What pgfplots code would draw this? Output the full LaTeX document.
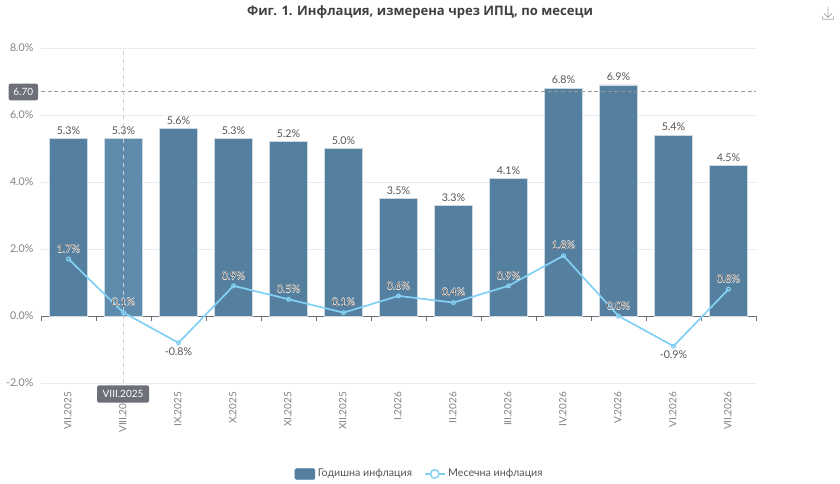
\documentclass[border=0pt]{standalone}
\usepackage{pgfplots}
\pgfplotsset{compat=1.18}
\usepackage{fontspec}
\setmainfont{Lato}
\newfontfamily\titlefont{Open Sans}
\definecolor{barc}{HTML}{557F9F}
\definecolor{barh}{HTML}{5F8CAD}
\definecolor{linec}{HTML}{84D0F4}
\definecolor{gridc}{HTML}{E8EDF5}
\definecolor{axisc}{HTML}{6E7079}
\definecolor{txt}{HTML}{808080}
\definecolor{lab}{HTML}{555555}
\definecolor{boxc}{HTML}{6E7079}
\newcommand{\halo}[1]{\makebox[0pt]{\textcolor{white}{\kern.4pt #1}}\makebox[0pt]{\textcolor{white}{\kern-.4pt #1}}\makebox[0pt]{\raisebox{.4pt}{\textcolor{white}{#1}}}\makebox[0pt]{\raisebox{-.4pt}{\textcolor{white}{#1}}}\makebox[0pt]{\textcolor{lab}{#1}}}
\pgfplotstableread{
x y
0 5.3
2 5.6
3 5.3
4 5.2
5 5.0
6 3.5
7 3.3
8 4.1
9 6.8
10 6.9
11 5.4
12 4.5
}\yearly
\pgfplotstableread{
x y
1 5.3
}\yearlyhi
\pgfplotstableread{
x y
0 1.7
1 0.1
2 -0.8
3 0.9
4 0.5
5 0.1
6 0.6
7 0.4
8 0.9
9 1.8
10 0.0
11 -0.9
12 0.8
}\monthly
\pgfplotstableread{
x y
-0.5 6.7
12.5 6.7
}\markline
\pgfplotstableread{
x y
1 -2
1 8
}\pointer
\begin{document}
\begin{tikzpicture}
\path (0pt,0pt) rectangle (630pt,363pt);
\begin{axis}[
  at={(30.75pt,75.75pt)},anchor=south west,
  scale only axis,width=536.25pt,height=251.25pt,
  xmin=-0.5,xmax=12.5,ymin=-2,ymax=8,
  axis x line=bottom,axis y line=left,
  x axis line style={draw=none,-},
  y axis line style={draw=none,-},
  ytick={-2,0,2,4,6,8},
  yticklabel={\pgfmathprintnumber[fixed,fixed zerofill,precision=1,assume math mode=true]{\tick}\%},
  y tick label style={font=\fontsize{8}{9}\selectfont,text=txt},
  ymajorgrids,grid style={gridc,line width=.6pt},
  major y tick style={draw=none},
  xtick={0,...,12},
  xticklabels={VII.2025,VIII.2025,IX.2025,X.2025,XI.2025,XII.2025,I.2026,II.2026,III.2026,IV.2026,V.2026,VI.2026,VII.2026},
  x tick label style={font=\fontsize{7.5}{9}\selectfont,text=txt,rotate=90,anchor=east,xshift=-1pt,yshift=0.5pt},
  xtick style={draw=none},
  clip=false,
  legend style={at={(0.53,0)},anchor=center,yshift=-68.25pt,draw=none,fill=none,font=\fontsize{8}{9}\selectfont\color{lab},legend columns=2,/tikz/every even column/.append style={column sep=7pt},inner sep=0pt},
]
\addlegendimage{legend image code/.code={\fill[barc,rounded corners=1pt] (0pt,-4pt) rectangle (15pt,4pt);}}
\addlegendentry{Годишна инфлация}
\addlegendimage{legend image code/.code={\draw[linec,line width=1.1pt] (0pt,0pt) -- (15pt,0pt);\draw[linec,line width=1.1pt,fill=white] (7.5pt,0pt) circle (3.2pt);}}
\addlegendentry{Месечна инфлация}
\addplot[forget plot,axisc,line width=.6pt] coordinates {(-0.5,0) (12.5,0)};
\pgfplotsinvokeforeach{-0.5,0.5,1.5,2.5,3.5,4.5,5.5,6.5,7.5,8.5,9.5,10.5,11.5,12.5}{
  \addplot[forget plot,axisc,line width=.6pt] coordinates {(#1,0) (#1,-0.15)};
}
\addplot[forget plot,ybar,bar width=28.5pt,bar shift=0pt,fill=barc,draw=white!70!barc,line width=.5pt,
  nodes near coords={\pgfmathprintnumber[fixed,fixed zerofill,precision=1,assume math mode=true]{\pgfplotspointmeta}\%},
  every node near coord/.append style={font=\fontsize{8}{9}\selectfont,text=lab,yshift=-0.5pt}
  ] table[x=x,y=y]{\yearly};
\addplot[forget plot,ybar,bar width=28.5pt,bar shift=0pt,fill=barh,draw=white!70!barc,line width=.5pt,
  nodes near coords={\pgfmathprintnumber[fixed,fixed zerofill,precision=1,assume math mode=true]{\pgfplotspointmeta}\%},
  every node near coord/.append style={font=\fontsize{8}{9}\selectfont,text=lab,yshift=-0.5pt}
  ] table[x=x,y=y]{\yearlyhi};
\addplot[forget plot,densely dashed,black!40,line width=.5pt] table[x=x,y=y]{\markline};
\addplot[forget plot,dashed,black!20,line width=.8pt] table[x=x,y=y]{\pointer};
\addplot[forget plot,linec,line width=1.3pt,mark=o,mark size=1.5pt,mark options={fill=white,line width=.8pt},
  nodes near coords={\halo{\pgfmathprintnumber[fixed,fixed zerofill,precision=1,assume math mode=true]{\pgfplotspointmeta}\%}},
  every node near coord/.append style={font=\fontsize{8}{9}\selectfont,yshift=0.5pt}
  ] table[x=x,y=y]{\monthly};
\end{axis}
\node[font=\titlefont\bfseries\fontsize{9.8}{12}\selectfont,text=black!75] at (315pt,354pt) {Фиг. 1. Инфлация, измерена чрез ИПЦ, по месеци};
\node[fill=boxc,rounded corners=1.5pt,text=white,font=\fontsize{7.5}{9}\selectfont,inner sep=0pt,minimum width=22pt,minimum height=12.5pt] at (17.5pt,294pt) {6.70};
\node[fill=boxc,rounded corners=1.5pt,text=white,font=\fontsize{7.5}{9}\selectfont,inner sep=0pt,minimum width=39pt,minimum height=13pt] at (92.3pt,67.5pt) {VIII.2025};
\draw[black!35,line width=.5pt] (621pt,358pt) -- (621pt,350pt) (618pt,353pt) -- (621pt,350pt) -- (624pt,353pt) (617pt,351pt) -- (617pt,348.5pt) -- (625pt,348.5pt) -- (625pt,351pt);
\end{tikzpicture}
\end{document}
